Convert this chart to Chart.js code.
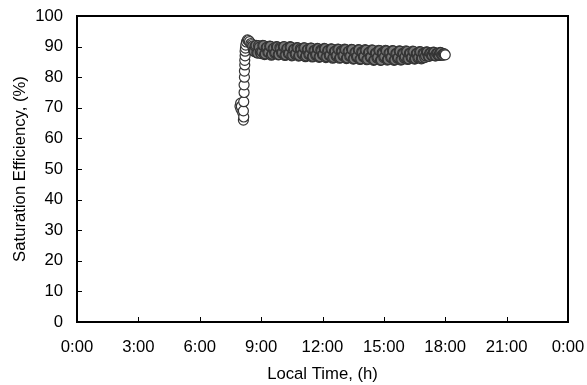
<!DOCTYPE html>
<html>
<head>
<meta charset="utf-8">
<script src="https://cdn.jsdelivr.net/npm/chart.js@4.4.1/dist/chart.umd.min.js"></script>
<style>
  html, body { margin: 0; padding: 0; background: #fff; }
  #wrap { width: 587px; height: 385px; }
</style>
</head>
<body>
<div id="wrap"><canvas id="chartSat"></canvas></div>
<script>
// tempo local em minutos do dia, eficiência de saturação em %
const riseMinutes = [478, 480, 481, 482, 486, 488, 489, 488, 489, 490, 490, 491, 491, 492, 492, 493, 493, 494, 495, 497, 500, 503, 506];
const riseValues  = [70.5, 71.5, 69.5, 70.5, 68.5, 66.0, 67.0, 69.0, 72.0, 75.0, 77.5, 80.0, 82.0, 84.0, 85.5, 87.0, 88.5, 89.5, 90.5, 91.5, 92.2, 92.0, 91.6];

const plateauMinutes = [
  510, 515, 520, 525, 530, 535, 540,
  545, 550, 555, 560, 565, 570, 575, 580, 585, 590, 595, 600,
  605, 610, 615, 620, 625, 630, 635, 640, 645, 650, 655, 660,
  665, 670, 675, 680, 685, 690, 695, 700, 705, 710, 715, 720,
  725, 730, 735, 740, 745, 750, 755, 760, 765, 770, 775, 780,
  785, 790, 795, 800, 805, 810, 815, 820, 825, 830, 835, 840,
  845, 850, 855, 860, 865, 870, 875, 880, 885, 890, 895, 900,
  905, 910, 915, 920, 925, 930, 935, 940, 945, 950, 955, 960,
  965, 970, 975, 980, 985, 990, 995, 1000, 1005, 1010, 1015, 1020,
  1025, 1030, 1035, 1040, 1045, 1050, 1055, 1060, 1065, 1070, 1075, 1080
];
const plateauValues = [
  91.0, 90.2, 88.4, 90.4, 87.9, 89.8, 87.7,
  90.4, 87.4, 89.6, 88.1, 90.2, 87.2, 89.3, 87.8, 90.0, 87.3, 89.7, 87.9,
  89.9, 87.1, 89.2, 87.7, 90.0, 87.0, 89.0, 87.5, 89.7, 86.9, 89.3, 87.6,
  89.6, 86.7, 88.9, 87.4, 89.5, 86.6, 88.7, 87.2, 89.4, 86.5, 88.9, 87.3,
  89.4, 86.4, 88.6, 87.1, 89.3, 86.2, 88.4, 86.9, 89.2, 86.2, 88.6, 87.0,
  89.2, 86.1, 88.3, 86.8, 89.1, 85.9, 88.1, 86.6, 89.0, 85.8, 88.3, 86.7,
  89.0, 85.7, 88.0, 86.5, 88.9, 85.5, 87.8, 86.3, 88.8, 85.5, 88.0, 86.4,
  88.8, 85.6, 87.8, 86.4, 88.7, 85.5, 87.7, 86.2, 88.6, 85.6, 87.8, 86.3,
  88.6, 85.8, 87.8, 86.4, 88.5, 85.9, 87.7, 86.3, 88.4, 86.0, 87.8, 86.4,
  88.3, 86.9, 87.9, 87.1, 88.2, 87.0, 87.8, 87.1, 88.1, 87.2, 87.7, 87.3
];

const halfMinutes = [
  512.5, 517.5, 522.5, 527.5, 532.5, 537.5,
  542.5, 547.5, 552.5, 557.5, 562.5, 567.5, 572.5, 577.5, 582.5, 587.5, 592.5, 597.5,
  602.5, 607.5, 612.5, 617.5, 622.5, 627.5, 632.5, 637.5, 642.5, 647.5, 652.5, 657.5,
  662.5, 667.5, 672.5, 677.5, 682.5, 687.5, 692.5, 697.5, 702.5, 707.5, 712.5, 717.5,
  722.5, 727.5, 732.5, 737.5, 742.5, 747.5, 752.5, 757.5, 762.5, 767.5, 772.5, 777.5,
  782.5, 787.5, 792.5, 797.5, 802.5, 807.5, 812.5, 817.5, 822.5, 827.5, 832.5, 837.5,
  842.5, 847.5, 852.5, 857.5, 862.5, 867.5, 872.5, 877.5, 882.5, 887.5, 892.5, 897.5,
  902.5, 907.5, 912.5, 917.5, 922.5, 927.5, 932.5, 937.5, 942.5, 947.5, 952.5, 957.5,
  962.5, 967.5, 972.5, 977.5, 982.5, 987.5, 992.5, 997.5, 1002.5, 1007.5, 1012.5, 1017.5,
  1022.5, 1027.5, 1032.5, 1037.5, 1042.5, 1047.5, 1052.5, 1057.5, 1062.5, 1067.5, 1072.5, 1077.5
];
const halfValues = [
  90.6, 88.7, 90.1, 88.0, 90.3, 88.2,
  88.3, 90.3, 87.6, 89.8, 88.1, 90.1, 87.5, 89.5, 88.0, 89.9, 87.4, 89.4,
  88.0, 90.0, 87.3, 89.5, 87.8, 89.8, 87.2, 89.2, 87.7, 89.6, 87.1, 89.0,
  87.7, 89.6, 87.0, 89.1, 87.5, 89.5, 86.8, 88.8, 87.4, 89.3, 86.7, 88.7,
  87.4, 89.3, 86.7, 88.8, 87.2, 89.2, 86.5, 88.5, 87.1, 89.1, 86.4, 88.4,
  87.1, 89.0, 86.3, 88.5, 86.9, 89.0, 86.1, 88.2, 86.8, 88.9, 86.0, 88.1,
  86.8, 88.8, 85.9, 88.2, 86.6, 88.8, 85.7, 87.9, 86.5, 88.7, 85.6, 87.8,
  86.7, 88.6, 85.8, 88.0, 86.5, 88.6, 85.7, 87.8, 86.4, 88.5, 85.8, 87.7,
  86.7, 88.4, 86.0, 87.9, 86.5, 88.4, 86.1, 87.8, 86.5, 88.3, 86.3, 87.7,
  87.0, 88.2, 86.8, 87.9, 87.1, 88.1, 87.0, 87.8, 87.2, 88.0, 87.2, 87.6
];

const xTicks = [0, 3, 6, 9, 12, 15, 18, 21, 24];
const yTicks = [0, 10, 20, 30, 40, 50, 60, 70, 80, 90, 100];

const patamar = plateauMinutes.map((m, i) => ({ x: m / 60, y: plateauValues[i] }))
  .concat(halfMinutes.map((m, i) => ({ x: m / 60, y: halfValues[i] })))
  .sort((a, b) => a.x - b.x);
const pontos = riseMinutes.map((m, i) => ({ x: m / 60, y: riseValues[i] })).concat(patamar);

// pontos sobrepostos do patamar aparecem como faixa cinza escura; o último fica aberto
const corFundo = ctx => {
  const i = ctx.dataIndex;
  return (i >= riseMinutes.length + 2 && i < pontos.length - 1) ? '#787878' : '#fff';
};

// moldura e marcas internas dos eixos (posições vindas das escalas)
const molduraPlugin = {
  id: 'moldura',
  afterDraw(chart) {
    const { ctx, scales } = chart;
    const x0 = scales.x.getPixelForValue(xTicks[0]);
    const x1 = scales.x.getPixelForValue(xTicks[xTicks.length - 1]);
    const y0 = scales.y.getPixelForValue(yTicks[0]);
    const y1 = scales.y.getPixelForValue(yTicks[yTicks.length - 1]);
    ctx.save();
    ctx.strokeStyle = '#000';
    ctx.lineWidth = 1;
    ctx.beginPath();
    xTicks.forEach(t => {
      const px = Math.round(scales.x.getPixelForValue(t)) + 0.5;
      ctx.moveTo(px, y0); ctx.lineTo(px, y0 - 5);
    });
    yTicks.forEach(t => {
      const py = Math.round(scales.y.getPixelForValue(t)) + 0.5;
      ctx.moveTo(x0, py); ctx.lineTo(x0 + 5, py);
    });
    ctx.stroke();
    ctx.lineWidth = 2;
    ctx.strokeRect(x0, y1, x1 - x0, y0 - y1);
    ctx.restore();
  }
};

Chart.defaults.font.family = '"Liberation Sans", Arial, sans-serif';
Chart.defaults.font.size = 16.7;
Chart.defaults.color = '#000';

new Chart(document.getElementById('chartSat'), {
  type: 'scatter',
  data: {
    datasets: [{
      label: 'Saturation Efficiency',
      data: pontos,
      pointStyle: 'circle',
      pointRadius: 5,
      pointBorderWidth: 1.2,
      pointBorderColor: '#333',
      pointBackgroundColor: corFundo,
      showLine: false
    }]
  },
  options: {
    responsive: true,
    maintainAspectRatio: false,
    animation: false,
    layout: { padding: { top: 16, right: 19, bottom: 0, left: 0 } },
    plugins: { legend: { display: false }, tooltip: { enabled: false } },
    scales: {
      x: {
        type: 'linear',
        min: 0, max: 24,
        afterBuildTicks: s => { s.ticks = xTicks.map(v => ({ value: v })); },
        afterFit: s => { s.height = 63; s.paddingLeft = 0; s.paddingRight = 0; },
        grid: { display: false, drawTicks: false },
        border: { display: false },
        ticks: {
          padding: 15,
          maxRotation: 0,
          autoSkip: false,
          callback: v => (v % 24) + ':00'
        },
        title: { display: true, text: 'Local Time, (h)', padding: { top: 0, bottom: 1 } }
      },
      y: {
        min: 0, max: 100,
        afterBuildTicks: s => { s.ticks = yTicks.map(v => ({ value: v })); },
        afterFit: s => { s.width = 77; s.paddingTop = 0; s.paddingBottom = 0; },
        grid: { display: false, drawTicks: false },
        border: { display: false },
        ticks: { padding: 14, autoSkip: false },
        title: { display: true, text: 'Saturation Efficiency, (%)', padding: { top: 10, bottom: 0 } }
      }
    }
  },
  plugins: [molduraPlugin]
});
</script>
</body>
</html>
